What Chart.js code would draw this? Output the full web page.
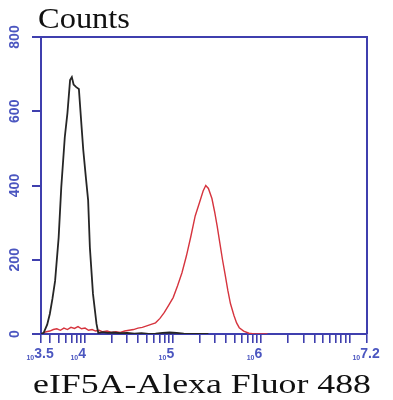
<!DOCTYPE html>
<html>
<head>
<meta charset="utf-8">
<style>
  html, body { margin: 0; padding: 0; background: #fff; }
  #wrap { width: 393px; height: 400px; }
</style>
<script src="https://cdn.jsdelivr.net/npm/chart.js@4/dist/chart.umd.min.js"></script>
</head>
<body>
<div id="wrap"><canvas id="chart" width="393" height="400"></canvas></div>
<script>
// log10 of fluorescence intensity, and the counts
const blackLogX = [3.50, 3.53, 3.57, 3.60, 3.63, 3.66, 3.70, 3.73, 3.77, 3.80, 3.83, 3.85, 3.87, 3.90, 3.93, 3.96, 3.98, 4.01, 4.035, 4.055, 4.09, 4.13, 4.15, 4.20, 4.26, 4.32, 4.40, 4.48, 4.56, 4.64, 4.72, 4.80, 4.88, 4.96, 5.04, 5.12, 5.20, 5.40];
const blackCounts = [0, 3, 25, 54, 95, 143, 259, 395, 530, 595, 684, 692, 672, 665, 660, 560, 495, 420, 360, 232, 108, 27, 3, 5, 3, 4, 2, 3, 1, 2, 0, 1, 3, 4, 3, 1, 0, 0];

const redLogX = [3.52, 3.56, 3.60, 3.64, 3.68, 3.72, 3.76, 3.80, 3.84, 3.88, 3.92, 3.96, 4.00, 4.04, 4.08, 4.12, 4.16, 4.20, 4.25, 4.30, 4.35, 4.40, 4.45, 4.50, 4.55, 4.60, 4.65, 4.70, 4.75, 4.80, 4.85, 4.90, 4.95, 5.00, 5.05, 5.10, 5.15, 5.20, 5.25, 5.30, 5.34, 5.37, 5.40, 5.44, 5.47, 5.50, 5.53, 5.56, 5.59, 5.62, 5.65, 5.69, 5.72, 5.75, 5.80, 5.86, 5.92, 6.00, 6.07];
const redCounts = [3, 6, 8, 12, 14, 10, 16, 12, 18, 15, 20, 14, 16, 10, 12, 8, 10, 6, 8, 4, 6, 4, 8, 10, 12, 16, 18, 22, 26, 30, 42, 58, 78, 98, 130, 165, 210, 262, 318, 355, 385, 400, 392, 365, 330, 290, 245, 200, 160, 118, 82, 50, 30, 17, 8, 2, 0, 0, 0];

const xTickExps = [3.5, 4, 5, 6, 7.2];
const yTicks = [0, 200, 400, 600, 800];
const yTitle = 'Counts';
const xTitle = 'eIF5A-Alexa Fluor 488';

const axisBlue = '#3f3fae';
const labelBlue = '#4b56c0';

const toPoints = (logs, counts) => logs.map((e, i) => ({ x: Math.pow(10, e), y: counts[i] }));

// minor log ticks between the end points, like the cytometer software draws them
const xTickValues = () => {
  const vals = [Math.pow(10, 3.5)];
  for (let d = 3; d <= 7; d++) {
    for (let m = 1; m <= 9; m++) {
      const v = m * Math.pow(10, d);
      if (v > Math.pow(10, 3.5) && v < Math.pow(10, 7.2)) vals.push(v);
    }
  }
  vals.push(Math.pow(10, 7.2));
  return vals;
};

// draw text stretched sideways so it fills the same width as the wide original font
const wideText = (ctx, text, x, y, width) => {
  const w = ctx.measureText(text).width;
  ctx.save();
  ctx.translate(x, y);
  ctx.scale(width / w, 1);
  ctx.fillText(text, 0, 0);
  ctx.restore();
};

const labelsPlugin = {
  id: 'cytoLabels',
  afterDraw(chart) {
    const { ctx, chartArea: a } = chart;
    const xs = chart.scales.x, ys = chart.scales.y;
    ctx.save();

    // top and right frame
    ctx.strokeStyle = axisBlue;
    ctx.lineWidth = 2;
    ctx.beginPath();
    ctx.moveTo(a.left, a.top);
    ctx.lineTo(a.right, a.top);
    ctx.lineTo(a.right, a.bottom);
    ctx.stroke();

    // y tick labels, rotated
    ctx.fillStyle = labelBlue;
    ctx.font = 'bold 14px "Liberation Sans"';
    ctx.textAlign = 'center';
    ctx.textBaseline = 'middle';
    yTicks.forEach(v => {
      ctx.save();
      ctx.translate(15, ys.getPixelForValue(v));
      ctx.rotate(-Math.PI / 2);
      ctx.fillText(String(v), 0, 0);
      ctx.restore();
    });

    // x tick labels: small "10" then the exponent
    ctx.textAlign = 'left';
    ctx.textBaseline = 'alphabetic';
    xTickExps.forEach(e => {
      const px = xs.getPixelForValue(Math.pow(10, e));
      const expText = String(e);
      ctx.font = 'bold 14px "Liberation Sans"';
      const wFirst = ctx.measureText(expText[0]).width;
      ctx.font = 'bold 7px "Liberation Sans"';
      const w10 = ctx.measureText('10').width;
      const x0 = px + 1 - w10 - wFirst;
      ctx.fillText('10', x0, 360);
      ctx.font = 'bold 14px "Liberation Sans"';
      ctx.fillText(expText, x0 + w10, 358);
    });

    // titles
    ctx.fillStyle = '#111';
    ctx.font = '30px "Liberation Serif"';
    wideText(ctx, yTitle, 38, 28, 92);
    ctx.font = '28px "Liberation Serif"';
    wideText(ctx, xTitle, 33, 393, 338);

    ctx.restore();
  }
};

new Chart(document.getElementById('chart'), {
  type: 'line',
  data: {
    datasets: [
      {
        label: 'Control',
        data: toPoints(blackLogX, blackCounts),
        borderColor: '#262626',
        borderWidth: 1.8,
        pointRadius: 0,
        tension: 0,
        order: 1
      },
      {
        label: 'eIF5A',
        data: toPoints(redLogX, redCounts),
        borderColor: '#d6343e',
        borderWidth: 1.4,
        pointRadius: 0,
        tension: 0,
        order: 2
      }
    ]
  },
  options: {
    responsive: false,
    animation: false,
    devicePixelRatio: 1,
    layout: { padding: { top: 37, right: 26, left: 0, bottom: 0 } },
    plugins: {
      legend: { display: false },
      tooltip: { enabled: false }
    },
    scales: {
      x: {
        type: 'logarithmic',
        min: Math.pow(10, 3.5),
        max: Math.pow(10, 7.2),
        afterBuildTicks: s => { s.ticks = xTickValues().map(v => ({ value: v })); },
        afterFit: s => { s.height = 66; },
        ticks: { display: false },
        grid: { drawOnChartArea: false, drawTicks: true, tickLength: 9, color: axisBlue, lineWidth: 1.6 },
        border: { display: true, color: axisBlue, width: 2 }
      },
      y: {
        min: 0,
        max: 800,
        afterBuildTicks: s => { s.ticks = yTicks.map(v => ({ value: v })); },
        afterFit: s => { s.width = 41; },
        ticks: { display: false },
        grid: { drawOnChartArea: false, drawTicks: true, tickLength: 9, color: axisBlue, lineWidth: 2 },
        border: { display: true, color: axisBlue, width: 2 }
      }
    }
  },
  plugins: [labelsPlugin]
});
</script>
</body>
</html>
